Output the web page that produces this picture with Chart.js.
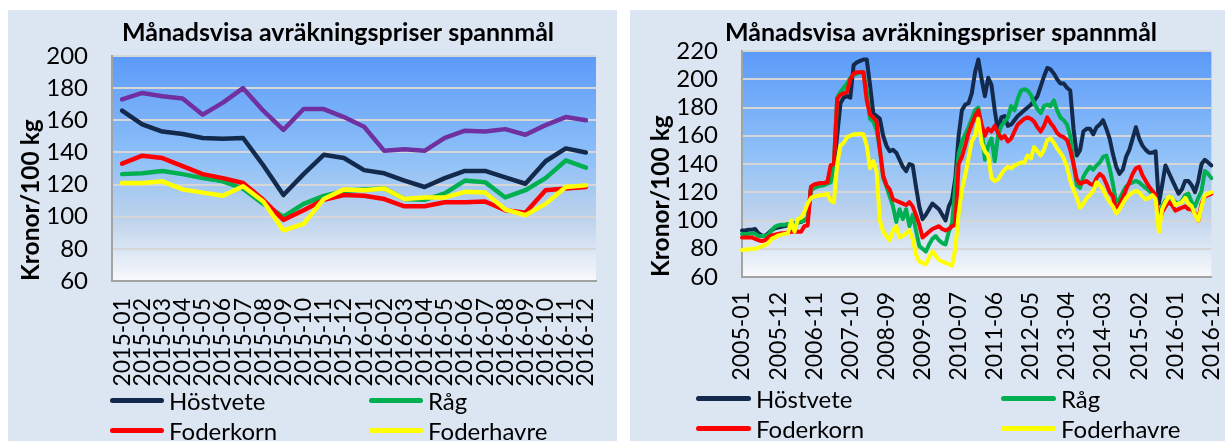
<!DOCTYPE html>
<html>
<head>
<meta charset="utf-8">
<script src="https://cdn.jsdelivr.net/npm/chart.js@4.4.1/dist/chart.umd.min.js"></script>
<style>
html,body{margin:0;padding:0;background:#fff;width:1225px;height:441px;overflow:hidden;position:relative;}
.panel{position:absolute;background:#dce6f2;}
#p1{left:8px;top:10px;width:609px;height:431px;}
#p2{left:630px;top:10px;width:595px;height:431px;}
canvas{position:absolute;}
#c1{left:8px;top:10px;}
#c2{left:628px;top:10px;}
.lg{position:absolute;height:32px;display:flex;align-items:center;font-family:Lato,"Open Sans",sans-serif;font-size:24px;color:#000;white-space:nowrap;}
.lg span.ln{display:inline-block;height:5px;border-radius:3px;margin-right:5px;}
</style>
</head>
<body>
<div class="panel" id="p1"></div>
<div class="panel" id="p2"></div>
<canvas id="c1" width="660" height="385"></canvas>
<canvas id="c2" width="626" height="385"></canvas>
<div id="legends"></div>
<script>
// ---------- DATA: left chart (2015-01 .. 2016-12) ----------
const leftLabels = ['2015-01','2015-02','2015-03','2015-04','2015-05','2015-06','2015-07','2015-08','2015-09','2015-10','2015-11','2015-12',
                    '2016-01','2016-02','2016-03','2016-04','2016-05','2016-06','2016-07','2016-08','2016-09','2016-10','2016-11','2016-12'];
const leftPurple     = [173,177,175,173.5,163.5,171,180,166,154,167,167,162,156,141,142,141,149,153.5,153,154.5,151,157,162,160];
const leftHostvete   = [166,157.5,153,151.5,149,148.5,149,132,113.5,126.5,138.5,136.5,129,127,122.5,118.5,124,128.5,128.5,124.5,120.5,134.5,142.5,140];
const leftRag        = [126.5,127,128.5,126.5,124,122,117.5,108,100,108,113,116,117,117.5,111,110.5,114.5,122.5,121.5,112,116.5,124,135,130.5];
const leftFoderkorn  = [133,138,136.5,131.5,126.5,124,121,110.5,98,104,110.5,113.5,113,111,106.5,106.5,109,109,109.5,104,102.5,116.5,117.5,118.5];
const leftFoderhavre = [121,121,122,117,115,113,119,109.5,91.5,95.5,111,117,116.5,117.5,111,112,112,115.5,115,104.5,101,108,118.5,119.5];

// ---------- DATA: right chart (2005-01 .. 2016-12, monthly) ----------
const rightYears = [2005,2006,2007,2008,2009,2010,2011,2012,2013,2014,2015,2016];
const rightMonths = ['01','02','03','04','05','06','07','08','09','10','11','12'];
const rightTickEvery = 11;
const rightHostvete = [
  93,93,93.5,93.5,94,91,89.5,89,91,93,94.5,95,
  95.5,96,96.5,97,98,98.5,99,100,101,123,125,126,
  126,126.5,127,135,140,160,183,187,188,187,210,212,
  213,214,214,196,176,174,172,160,153,149,150,148,
  143,138,135,140,139,124,110,101,104,108,112,110,
  108,104,100,110,115,130,160,178,182,183,190,205,
  214,200,188,201,196,178,163,173,174,167,168,171,
  174,176,178,180,182,185,188,195,202,208,207,204,
  200,197,197,194,192,165,146,150,163,165,165,161,
  166,168,171,165,158,147,138,133,136,145,150,158,
  166,158,153,150,148,148,149,112,125,139,134,129,
  124,119,122,128,128,125,120,128,140,143,141,139];
const rightRag = [
  90.5,90.5,90.5,91,90.5,89,89,89,90,93,95.5,96.5,
  97,97,97.5,97.5,98,98.5,99.5,100,102,121,123,124,
  124.5,125,126,127,140,187,191,194,197,201,203,204,
  205,205,192,172,170,164,150,130,124,117,110,99,
  108,101,108,96,104,93,82,80,78,83,87,89,
  86,84,83,92,98,125,147,156,161,166,172,178,
  180,165,143,153,158,142,160,167,170,173,181,178,
  186,192,193,192,189,183,179,176,181,182,181,185,
  178,173,171,168,160,140,125,123,131,135,138,136,
  139,141,145,146,137,126,112,115,120,124,126,127,
  128,127,125,123,121,119,117,102,110,114,116,115,
  113,112,114,118,119,113,110,116,121,135,133,130];
const rightFoderkorn = [
  88,88,88,88,87,86,85.5,86,88,89.5,90,90.5,
  91,91,91.5,92,92,92,92,96,96.5,124,125.5,126,
  126.5,126.5,127,139,140,186,189,190,191,200,204,205,
  205,205,185,175,173,170,150,132,125,122,115,114,
  113,112,111,113,110,104,97,88,90,92,94,95,
  96,94,93,94,96,97,140,145,153,162,168,174,
  178,168,160,165,163,167,162,158,160,156,158,163,
  168,170,172,173,172,170,166,163,167,173,169,166,
  162,160,159,157,150,140,129,126,127,128,126,125,
  130,133,131,126,120,117,107,111,116,122,127,133,
  137,138,132,128,124,121,118,98,106,110,113,111,
  107,108,109,110,108,108,105,100,112,117,118,119];
const rightFoderhavre = [
  79,79.5,79.5,80,80,80.5,82,82.5,84,87,88,89.5,
  90,90.5,91,100,92,101,102,106,112,116,117,117.5,
  118,118,119,114,113,140,153,155,159,160,161,161,
  161.5,161,153,137,142,135,100,92,89,86,93,96,
  88,89,91,93,87,76,71,70,69,74,78,75,
  72,71,70,69,68,80,105,122,132,144,156,160,
  172,155,149,146,130,128,129,133,136,138,137,139,
  140,141,141,146,144,152,149,146,150,157,158,155,
  151,148,144,138,128,122,116,109,112,116,118,121,
  127,125,122,117,113,110,105,108,112,116,118,120,
  121,120,117,115,116,118,115,92,108,113,117,116,
  111,112,113,116,112,110,104,100,110,118,119,120];

const rightLabels = [];
rightYears.forEach(y => rightMonths.forEach(m => rightLabels.push(y + '-' + m)));

// ---------- STYLE ----------
const FONT = 'Lato, "Open Sans", sans-serif';
const COLORS = {hostvete:'#132a4c', rag:'#00b050', foderkorn:'#ff0000', foderhavre:'#ffff00', purple:'#7030a0'};
const TITLE = 'Månadsvisa avräkningspriser spannmål';
const YTITLE = 'Kronor/100 kg';

const plotBg = {
  id:'plotBg',
  beforeDraw(chart){
    const {ctx, chartArea:{left,top,right,bottom}} = chart;
    const g = ctx.createLinearGradient(0,top,0,bottom);
    g.addColorStop(0,'#5b9af8');
    g.addColorStop(0.45,'#8ec0f8');
    g.addColorStop(0.72,'#bcd2ec');
    g.addColorStop(1,'#f8f9fc');
    ctx.save();
    ctx.fillStyle = g;
    ctx.fillRect(left,top,right-left,bottom-top);
    ctx.restore();
  }
};

// chart title drawn at a set centre (Excel centres it on the chart frame, not the plot)
const panelTitle = {
  id:'panelTitle',
  afterDraw(chart, args, opts){
    const ctx = chart.ctx;
    ctx.save();
    ctx.font = 'bold ' + opts.size + 'px ' + FONT;
    ctx.fillStyle = '#000';
    ctx.textAlign = 'center';
    ctx.textBaseline = 'middle';
    ctx.fillText(opts.text, opts.x, opts.y);
    ctx.restore();
  }
};

function ds(label, data, color, width, order){
  return {label, data, borderColor:color, backgroundColor:color, borderWidth:width,
          pointRadius:0, tension:0, fill:false, order,
          borderJoinStyle:'round', borderCapStyle:'round'};
}

function makeChart(id, cfg){
  return new Chart(document.getElementById(id), {
    type:'line',
    data:{labels:cfg.labels, datasets:cfg.datasets},
    options:{
      responsive:false, animation:false, devicePixelRatio:1,
      layout:{padding:{left:0, right:cfg.padRight, top:cfg.padTop, bottom:0}},
      plugins:{
        legend:{display:false},
        tooltip:{enabled:false},
        title:{display:false},
        panelTitle:{text:TITLE, x:cfg.titleX, y:23, size:25}
      },
      scales:{
        x:{
          offset:cfg.offset,
          grid:{display:false, drawTicks:false},
          border:{display:true, color:'#a3a3a3', width:2},
          ticks:{autoSkip:false, maxRotation:90, minRotation:90, padding:cfg.xPad, color:'#000',
                 font:{family:FONT, size:23}, callback:cfg.xCallback},
          afterFit(s){ s.height = cfg.xHeight; }
        },
        y:{
          min:cfg.yMin, max:cfg.yMax,
          grid:{color:'#d6d6d6', lineWidth:2, drawTicks:false},
          border:{display:true, color:'#a3a3a3', width:2},
          ticks:{stepSize:20, autoSkip:false, padding:24, color:'#000', font:{family:FONT, size:24}},
          title:{display:true, text:YTITLE, align:'start', color:'#000',
                 font:{family:FONT, size:24.5, weight:'bold'}, padding:{top:cfg.yTitlePad, bottom:0}},
          afterFit(s){ s.width = cfg.yWidth; }
        }
      }
    },
    plugins:[plotBg, panelTitle]
  });
}

makeChart('c1', {
  labels:leftLabels,
  datasets:[
    ds('Höstvete', leftHostvete, COLORS.hostvete, 4.5, 3),
    ds('Råg', leftRag, COLORS.rag, 4.5, 2),
    ds('Foderkorn', leftFoderkorn, COLORS.foderkorn, 4.5, 1),
    ds('Foderhavre', leftFoderhavre, COLORS.foderhavre, 4.5, 0),
    ds('', leftPurple, COLORS.purple, 4.5, 4)
  ],
  padRight:72, padTop:46, titleX:330, offset:true, xPad:17, xHeight:114, yMin:60, yMax:200, yWidth:104,
  yTitlePad:8,
  xCallback:function(v,i){ return this.getLabelForValue(v); }
});

makeChart('c2', {
  labels:rightLabels,
  datasets:[
    ds('Höstvete', rightHostvete, COLORS.hostvete, 4, 3),
    ds('Råg', rightRag, COLORS.rag, 4, 2),
    ds('Foderkorn', rightFoderkorn, COLORS.foderkorn, 4, 1),
    ds('Foderhavre', rightFoderhavre, COLORS.foderhavre, 4, 0)
  ],
  padRight:38, padTop:41, titleX:313, offset:false, xPad:15, xHeight:118, yMin:60, yMax:220, yWidth:114,
  yTitlePad:18,
  xCallback:function(v,i){ return i % rightTickEvery === 0 ? this.getLabelForValue(v) : null; }
});

// ---------- LEGENDS (HTML, real text) ----------
const legendItems = [
  {label:'Höstvete', color:COLORS.hostvete},
  {label:'Råg', color:COLORS.rag},
  {label:'Foderkorn', color:COLORS.foderkorn},
  {label:'Foderhavre', color:COLORS.foderhavre}
];
function legend(cols, rows, lineW){
  const host = document.getElementById('legends');
  legendItems.forEach((it, k) => {
    const d = document.createElement('div');
    d.className = 'lg';
    d.style.left = cols[k % 2] + 'px';
    d.style.top = (rows[Math.floor(k / 2)] - 16) + 'px';
    const ln = document.createElement('span');
    ln.className = 'ln';
    ln.style.width = lineW + 'px';
    ln.style.background = it.color;
    const tx = document.createElement('span');
    tx.textContent = it.label;
    d.appendChild(ln); d.appendChild(tx);
    host.appendChild(d);
  });
}
legend([110, 369], [400, 430], 54);
legend([696, 1001], [398, 428], 55);
</script>
</body>
</html>
